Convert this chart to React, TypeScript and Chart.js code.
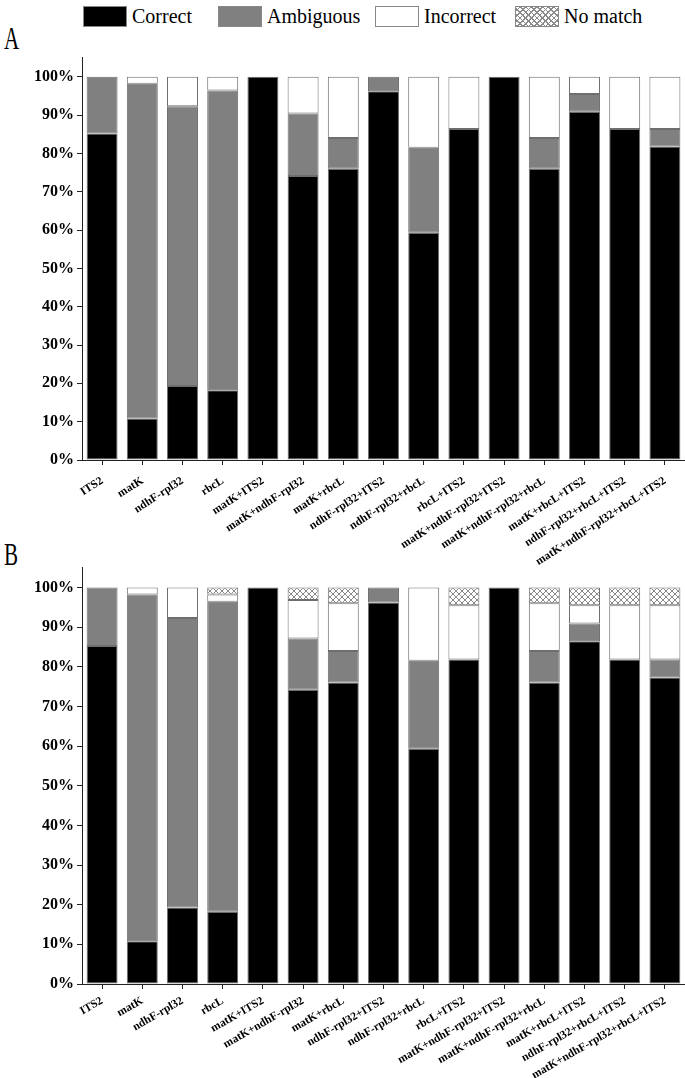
import React, { useEffect, useRef } from "react";
import { Chart, registerables } from "chart.js";
Chart.register(...registerables);

const categories = [
  "ITS2", "matK", "ndhF-rpl32", "rbcL", "matK+ITS2", "matK+ndhF-rpl32", "matK+rbcL",
  "ndhF-rpl32+ITS2", "ndhF-rpl32+rbcL", "rbcL+ITS2", "matK+ndhF-rpl32+ITS2",
  "matK+ndhF-rpl32+rbcL", "matK+rbcL+ITS2", "ndhF-rpl32+rbcL+ITS2", "matK+ndhF-rpl32+rbcL+ITS2",
];
const seriesNames = ["Correct", "Ambiguous", "Incorrect", "No match"];

const correctA = [85.2, 10.8, 19.3, 18.2, 100, 74.1, 76.0, 96.2, 59.3, 86.4, 100, 76.0, 90.9, 86.4, 81.8];
const ambiguousA = [14.8, 87.4, 73.0, 78.2, 0, 16.3, 8.0, 3.8, 22.2, 0, 0, 8.0, 4.6, 0, 4.6];
const incorrectA = [0, 1.8, 7.7, 3.6, 0, 9.6, 16.0, 0, 18.5, 13.6, 0, 16.0, 4.5, 13.6, 13.6];
const noMatchA = [0, 0, 0, 0, 0, 0, 0, 0, 0, 0, 0, 0, 0, 0, 0];

const correctB = [85.2, 10.8, 19.3, 18.2, 100, 74.2, 76.0, 96.2, 59.3, 81.8, 100, 76.0, 86.4, 81.8, 77.3];
const ambiguousB = [14.8, 87.4, 73.0, 78.2, 0, 12.9, 8.0, 3.8, 22.2, 0, 0, 8.0, 4.5, 0, 4.5];
const incorrectB = [0, 1.8, 7.7, 1.8, 0, 9.7, 12.0, 0, 18.5, 13.7, 0, 12.0, 4.6, 13.7, 13.7];
const noMatchB = [0, 0, 0, 1.8, 0, 3.2, 4.0, 0, 0, 4.5, 0, 4.0, 4.5, 4.5, 4.5];

const SERIF = "'Liberation Serif', 'Times New Roman', serif";

function makePattern(): CanvasPattern | string {
  const c = document.createElement("canvas");
  c.width = 6;
  c.height = 6;
  const ctx = c.getContext("2d");
  if (!ctx) return "#fff";
  ctx.fillStyle = "#fff";
  ctx.fillRect(0, 0, 6, 6);
  ctx.strokeStyle = "#8a8a8a";
  ctx.lineWidth = 1;
  ctx.beginPath();
  ctx.moveTo(0, 0); ctx.lineTo(6, 6);
  ctx.moveTo(6, 0); ctx.lineTo(0, 6);
  ctx.stroke();
  return ctx.createPattern(c, "repeat") || "#fff";
}

const nz = (arr: number[]) => arr.map((v) => (v === 0 ? null : v));

function buildChart(canvas: HTMLCanvasElement, series: number[][], padTop: number, xHeight: number, rot: number, labelPad: number) {
  const fills = ["#000000", "#808080", "#ffffff", makePattern()];
  return new Chart(canvas, {
    type: "bar",
    data: {
      labels: categories,
      datasets: series.map((s, i) => ({
        label: seriesNames[i],
        data: nz(s),
        backgroundColor: fills[i] as any,
        borderColor: "#6e6e6e",
        borderWidth: 1,
        borderSkipped: false,
        barPercentage: 0.77,
        categoryPercentage: 1,
      })),
    },
    options: {
      animation: false,
      responsive: false,
      devicePixelRatio: 1,
      layout: { padding: { top: padTop, left: 0, right: 0, bottom: 0 } },
      plugins: { legend: { display: false }, tooltip: { enabled: false } },
      scales: {
        x: {
          stacked: true,
          grid: { display: true, drawOnChartArea: false, offset: false, tickLength: 5, color: "#222" },
          border: { color: "#222", width: 1 },
          ticks: {
            autoSkip: false,
            maxRotation: rot,
            minRotation: rot,
            padding: labelPad,
            color: "#000",
            font: { family: SERIF, weight: "bold", size: 11.5 },
          },
          afterFit: (s: any) => { s.height = xHeight; },
        },
        y: {
          stacked: true,
          min: 0,
          max: 105,
          grid: { display: true, drawOnChartArea: false, tickLength: 5, color: "#222" },
          border: { color: "#222", width: 1 },
          ticks: {
            stepSize: 5,
            padding: 3,
            color: "#000",
            font: { family: SERIF, weight: "bold", size: 16 },
            callback: (v: any) => (Number(v) % 10 === 0 ? v + "%" : ""),
          },
          afterBuildTicks: (s: any) => { s.ticks = s.ticks.filter((t: any) => t.value <= 100); },
          afterFit: (s: any) => { s.width = 82; },
        },
      },
    } as any,
  });
}

const legendBox = (bg: string): React.CSSProperties => ({
  display: "inline-block",
  width: 44,
  height: 21,
  boxSizing: "border-box",
  border: "1px solid #888",
  background: bg,
  verticalAlign: "middle",
});

export default function App() {
  const refA = useRef<HTMLCanvasElement>(null);
  const refB = useRef<HTMLCanvasElement>(null);
  useEffect(() => {
    const a = buildChart(refA.current!, [correctA, ambiguousA, incorrectA, noMatchA], 8, 145, 33, 9);
    const b = buildChart(refB.current!, [correctB, ambiguousB, incorrectB, noMatchB], 9, 94, 30, 5);
    return () => { a.destroy(); b.destroy(); };
  }, []);

  const hatch =
    "repeating-linear-gradient(45deg, #8a8a8a 0 1px, transparent 1px 4px), repeating-linear-gradient(-45deg, #8a8a8a 0 1px, #fff 1px 4px)";
  const items: [string, string][] = [["Correct", "#000"], ["Ambiguous", "#808080"], ["Incorrect", "#fff"], ["No match", hatch]];
  const itemX = [83, 218, 375, 515];

  return (
    <div style={{ position: "absolute", left: 0, top: 0, width: 685, height: 1078, background: "#fff", overflow: "hidden" }}>
      {items.map(([name, bg], i) => (
        <div key={name} style={{ position: "absolute", left: itemX[i], top: 4, height: 24, display: "flex", alignItems: "center", fontFamily: SERIF, fontSize: 20, color: "#000", whiteSpace: "nowrap" }}>
          <span style={legendBox(bg)} />
          <span style={{ marginLeft: 5 }}>{name}</span>
        </div>
      ))}
      <div style={{ position: "absolute", left: 4, top: 21, fontFamily: SERIF, fontSize: 31, transform: "scaleX(0.68)", transformOrigin: "left top", color: "#000" }}>A</div>
      <div style={{ position: "absolute", left: 4, top: 537, fontFamily: SERIF, fontSize: 31, transform: "scaleX(0.68)", transformOrigin: "left top", color: "#000" }}>B</div>
      <canvas ref={refA} width={685} height={560} style={{ position: "absolute", left: 0, top: 45, width: 685, height: 560 }} />
      <canvas ref={refB} width={685} height={523} style={{ position: "absolute", left: 0, top: 555, width: 685, height: 523 }} />
    </div>
  );
}
